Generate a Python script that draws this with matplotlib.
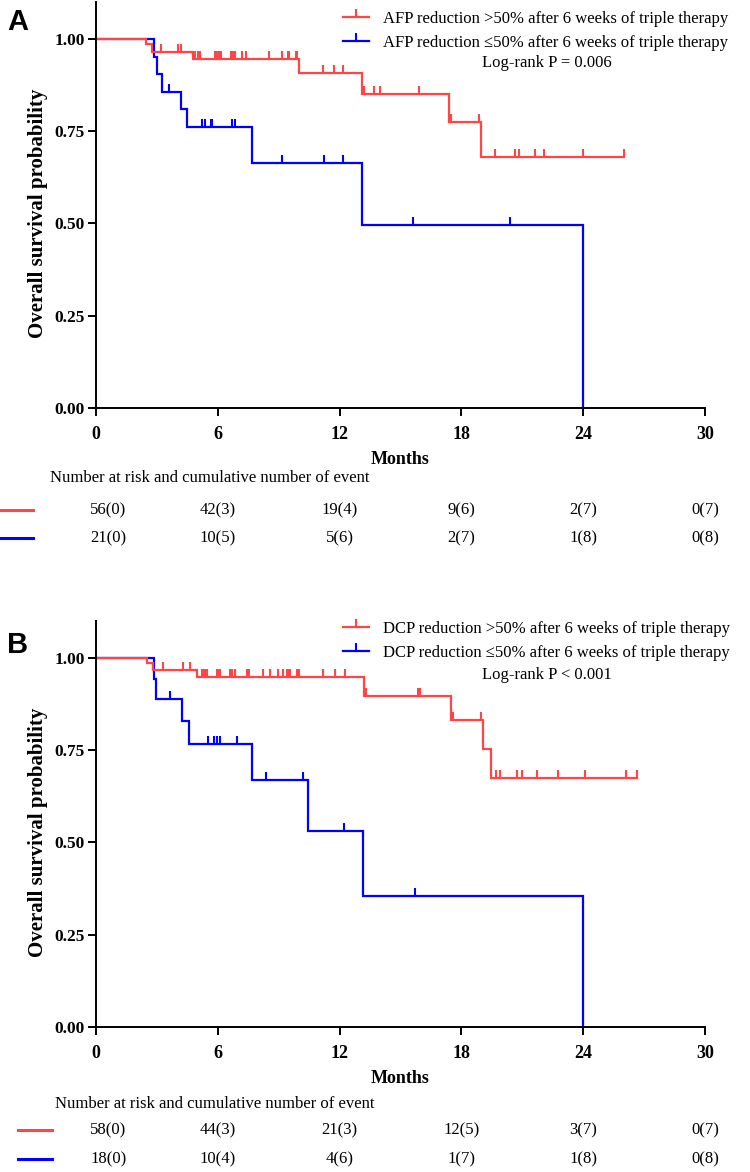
import numpy as np
import matplotlib
matplotlib.use('Agg')
import matplotlib.pyplot as plt
from matplotlib.lines import Line2D
from matplotlib.path import Path

RED = '#FF4545'
BLUE = '#0000FF'

# ---- panel A : AFP ----
A_red_t = [0, 2.46, 2.76, 4.8, 10.0, 13.1, 17.4, 18.95, 26.0]
A_red_s = [1.0, 0.986, 0.964, 0.945, 0.907, 0.851, 0.774, 0.679, 0.679]
A_red_cens = [3.2, 4.05, 4.17, 4.88, 5.0, 5.1, 5.86, 5.95, 6.08, 6.15, 6.63, 6.73,
              6.85, 7.18, 7.39, 8.54, 9.14, 9.44, 9.52, 9.84, 9.92, 11.16, 11.74,
              12.18, 13.2, 13.7, 13.99, 15.9, 17.5, 18.87, 19.65, 20.64, 20.85,
              21.63, 22.07, 24.0, 26.0]
A_blue_t = [0, 2.86, 2.99, 3.23, 4.19, 4.5, 7.67, 13.09, 24.0]
A_blue_s = [1.0, 0.952, 0.905, 0.857, 0.81, 0.762, 0.663, 0.497, 0.0]
A_blue_cens = [3.61, 5.2, 5.37, 5.65, 5.73, 6.71, 6.85, 9.14, 11.24, 12.15, 15.63, 20.39]

# ---- panel B : DCP ----
B_red_t = [0, 2.49, 2.79, 4.96, 13.2, 17.48, 19.04, 19.47, 26.65]
B_red_s = [1.0, 0.986, 0.967, 0.948, 0.897, 0.833, 0.754, 0.676, 0.676]
B_red_cens = [3.28, 4.27, 4.63, 5.2, 5.3, 5.38, 5.45, 5.95, 6.05, 6.12, 6.6, 6.72,
              6.85, 7.42, 7.52, 8.24, 8.57, 8.98, 9.22, 9.39, 9.47, 9.55, 9.88,
              9.98, 11.2, 11.77, 12.27, 13.3, 15.85, 15.96, 17.6, 18.96, 19.72,
              19.89, 20.73, 20.99, 21.7, 22.74, 24.1, 26.1, 26.65]
B_blue_t = [0, 2.86, 2.96, 4.24, 4.57, 7.69, 10.46, 13.14, 24.0]
B_blue_s = [1.0, 0.944, 0.889, 0.829, 0.768, 0.669, 0.53, 0.355, 0.0]
B_blue_cens = [3.65, 5.51, 5.81, 5.95, 6.12, 6.97, 8.39, 10.19, 12.22, 15.7]

# ---- risk tables ----
risk_months = [0, 6, 12, 18, 24, 30]
A_red_risk = ['56(0)', '42(3)', '19(4)', '9(6)', '2(7)', '0(7)']
A_blue_risk = ['21(0)', '10(5)', '5(6)', '2(7)', '1(8)', '0(8)']
B_red_risk = ['58(0)', '44(3)', '21(3)', '12(5)', '3(7)', '0(7)']
B_blue_risk = ['18(0)', '10(4)', '4(6)', '1(7)', '1(8)', '0(8)']

A_labels = ['AFP reduction >50% after 6 weeks of triple therapy',
            'AFP reduction \u226450% after 6 weeks of triple therapy']
B_labels = ['DCP reduction >50% after 6 weeks of triple therapy',
            'DCP reduction \u226450% after 6 weeks of triple therapy']

plt.rcParams.update({'font.family': ['Liberation Serif', 'DejaVu Serif'],
                     'font.size': 12,
                     'axes.linewidth': 1.4})

# upward tick used as censor mark
CENS = Path([(0, 0), (0, 1)], [Path.MOVETO, Path.LINETO])


def surv_at(t, s, x):
    i = np.searchsorted(t, x, side='right') - 1
    return np.array(s)[i]


def km(ax, t, s, cens, color):
    ax.step(t, s, where='post', color=color, lw=1.6, solid_joinstyle='miter')
    ax.plot(cens, surv_at(t, s, cens), ls='none', marker=CENS, ms=11.5,
            mew=1.5, color=color)


def panel(fig, rect, letter, red, blue, labels, ptext, leg_y, letter_dy,
          red_risk, blue_risk, tab_y, line_x):
    ax = fig.add_axes(rect)
    km(ax, *blue, BLUE)
    km(ax, *red, RED)

    ax.set_xlim(0, 30)
    ax.set_ylim(0, 1.1)
    ax.set_xticks(risk_months)
    ax.set_yticks([0, 0.25, 0.5, 0.75, 1.0])
    ax.set_yticklabels(['0.00', '0.25', '0.50', '0.75', '1.00'])
    for b in ['top', 'right']: ax.spines[b].set_visible(False)
    ax.tick_params(direction='out', length=6, width=1.4, labelsize=12.5, pad=2)
    ax.tick_params(axis='x', pad=7, labelsize=13)
    for lab in ax.get_xticklabels() + ax.get_yticklabels():
        lab.set_fontweight('bold')
    ax.xaxis.labelpad = 6
    ax.set_xlabel('Months', fontweight='bold', fontsize=13)
    ax.set_ylabel('Overall survival probability', fontweight='bold', fontsize=15)
    ax.yaxis.set_label_coords(-0.079, 0.48)

    # legend
    h = [Line2D([0], [0], color=RED, lw=1.6, marker=CENS, ms=11.5, mew=1.5),
         Line2D([0], [0], color=BLUE, lw=1.6, marker=CENS, ms=11.5, mew=1.5)]
    ax.legend(h, labels, loc='upper left', bbox_to_anchor=(0.405, leg_y),
              frameon=False, fontsize=12, handlelength=1.6, handletextpad=0.8,
              borderaxespad=0, borderpad=0, labelspacing=0.45, numpoints=1)
    ax.text(0.74, ptext, 'Log-rank P = 0.006' if letter == 'A' else 'Log-rank P < 0.001',
            transform=ax.transAxes, ha='center', va='center', fontsize=12)

    fig.text(0.024, rect[1] + rect[3] + letter_dy, letter,
             family='Liberation Sans', fontweight='bold', fontsize=21,
             ha='center', va='center')

    # risk table
    y0, y1, y2 = tab_y
    fig.text(0.067 if letter == 'A' else 0.073, y0,
             'Number at risk and cumulative number of event',
             ha='left', va='center', fontsize=12)
    for row, risk, col in [(y1, red_risk, RED), (y2, blue_risk, BLUE)]:
        fig.add_artist(Line2D(line_x, [row, row], color=col, lw=2.2,
                              transform=fig.transFigure))
        for m, txt in zip(risk_months, risk):
            xf = fig.transFigure.inverted().transform(
                ax.transData.transform((max(m, 0.6), 0)))[0]
            fig.text(xf, row, txt, ha='center', va='center', fontsize=12)
    return ax


fig = plt.figure(figsize=(7.5, 11.72), dpi=100)

panel(fig, [0.128, 0.6519, 0.812, 0.3464], 'A',
      (A_red_t, A_red_s, A_red_cens), (A_blue_t, A_blue_s, A_blue_cens),
      A_labels, 0.85, 0.977, -0.017, A_red_risk, A_blue_risk,
      (1 - 478 / 1172, 1 - 510 / 1172, 1 - 538 / 1172), [0.0, 0.044])

panel(fig, [0.128, 0.1237, 0.812, 0.3464], 'B',
      (B_red_t, B_red_s, B_red_cens), (B_blue_t, B_blue_s, B_blue_cens),
      B_labels, 0.867, 1.0, -0.0204, B_red_risk, B_blue_risk,
      (1 - 1104 / 1172, 1 - 1130 / 1172, 1 - 1159 / 1172), [0.024, 0.069])

fig.savefig('out.png', dpi=100)
